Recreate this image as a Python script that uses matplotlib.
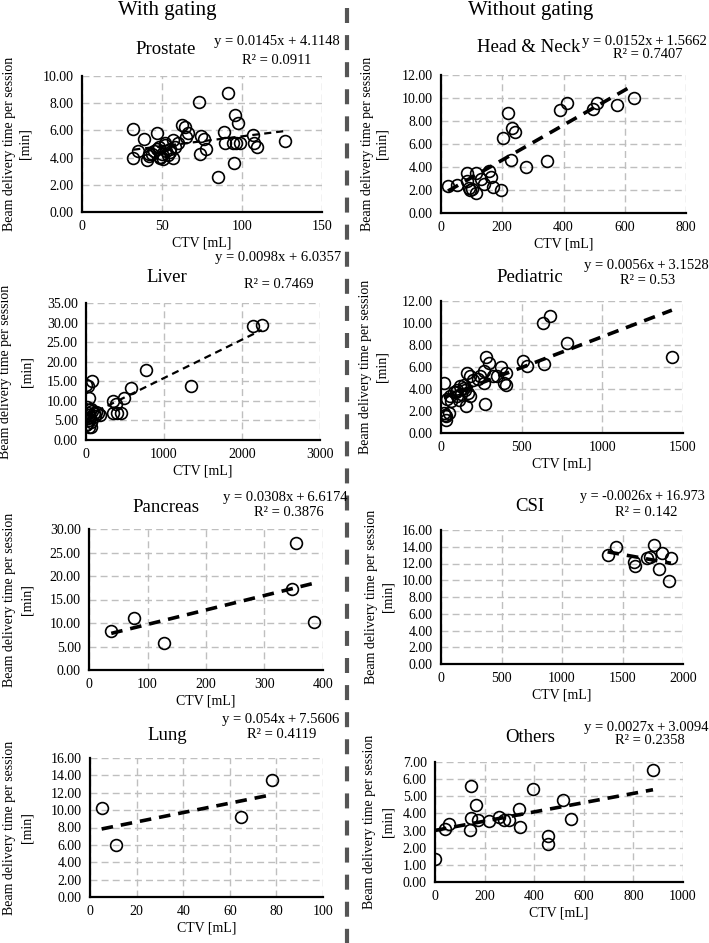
import matplotlib
matplotlib.use("Agg")
import matplotlib.pyplot as plt
import numpy as np

plt.rcParams['font.family'] = ['Liberation Serif', 'DejaVu Serif']

# ---------------- data ----------------
prostate_x = [32, 32, 35, 38.5, 40.4, 41.8, 46.6, 45, 48.3, 48.7, 50, 50.7, 51.8, 52.8, 53.9, 54.9,
              57, 57, 58, 62.8, 64.3, 66.3, 65.3, 73.2, 73.6, 74.6, 76.3, 77.8, 85, 88.6, 89.2, 91.1,
              95.5, 97.8, 95.1, 94.4, 96.5, 98.6, 106.9, 107.5, 109.4, 126.7, 44, 47, 49, 52, 55, 60, 42]
prostate_y = [6.08, 3.95, 4.5, 5.35, 3.8, 4.1, 5.8, 4.45, 4.8, 4.07, 4.3, 3.9, 5.05, 4.5, 4.2, 4.66,
              5.3, 3.95, 4.8, 6.4, 6.27, 5.8, 5.5, 8.1, 4.25, 5.6, 5.35, 4.6, 2.55, 5.9, 5.05, 8.77,
              7.1, 6.55, 3.58, 5.05, 5.05, 5.05, 5.66, 5.1, 4.75, 5.22, 4.3, 4.6, 4.0, 4.9, 4.4, 5.1, 4.25]

hn_x = [23, 52, 85, 85, 91, 96, 115, 115, 140, 156, 164, 170, 196, 203, 218, 227, 232, 240, 276,
        345, 387, 413, 497, 509, 576, 629, 100, 130]
hn_y = [2.37, 2.46, 3.47, 2.75, 2.17, 1.97, 3.47, 1.73, 2.54, 3.67, 3.12, 2.23, 2.02, 6.56, 8.68,
        4.63, 7.37, 7.08, 3.96, 4.48, 8.96, 9.54, 9.02, 9.6, 9.4, 9.98, 2.1, 3.0]

liver_x = [2145, 2252, 765, 1342, 577, 487, 350, 380, 340, 400, 444, 0, 30, 81, 43, 10, 20, 40, 60,
           80, 100, 130, 150, 180, 25, 50, 70, 15, 35, 43, 60, 110, 5]
liver_y = [29.2, 29.4, 17.9, 13.9, 13.2, 10.7, 10.0, 9.2, 6.8, 6.8, 6.8, 14.1, 13.7, 15.0, 10.7, 8.5,
           7.0, 6.5, 8.0, 7.5, 7.0, 7.2, 6.8, 6.5, 5.5, 6.0, 4.5, 4.0, 5.0, 3.4, 3.2, 6.2, 3.8]

ped_x = [673, 632, 783, 1431, 638, 534, 507, 280, 296, 369, 400, 390, 404, 348, 265, 265, 244, 271,
         161, 182, 157, 182, 17, 17, 27, 33, 48, 58, 79, 99, 120, 141, 99, 124, 150, 200, 60, 40, 30,
         110, 170, 230, 320, 90, 140]
ped_y = [10.67, 10.04, 8.16, 6.95, 6.29, 6.05, 6.59, 6.89, 6.35, 5.96, 5.44, 4.53, 4.38, 5.14, 5.6,
         4.53, 5.14, 2.63, 5.44, 5.14, 2.42, 3.33, 4.53, 1.81, 1.66, 1.21, 1.81, 3.33, 3.69, 3.93,
         4.23, 4.38, 3.33, 3.57, 3.9, 4.8, 2.9, 3.1, 1.5, 3.0, 3.6, 4.9, 5.2, 3.7, 4.1]

panc_x = [38, 77, 128, 347, 353, 384]
panc_y = [8.3, 11.0, 5.7, 17.2, 27.0, 10.3]

csi_x = [1377, 1446, 1592, 1600, 1702, 1730, 1757, 1804, 1826, 1881, 1900]
csi_y = [13.0, 14.0, 12.2, 11.7, 12.6, 12.8, 14.2, 11.3, 13.2, 9.9, 12.6]

lung_x = [5.0, 11.2, 64.8, 78.1]
lung_y = [10.2, 5.98, 9.25, 13.5]

oth_x = [0, 40, 55, 147, 145, 142, 164, 172, 218, 260, 279, 299, 339, 341, 395, 456, 457, 517, 550, 879]
oth_y = [1.32, 3.11, 3.4, 5.58, 3.75, 3.05, 4.51, 3.64, 3.56, 3.79, 3.6, 3.64, 4.28, 3.21, 5.41,
         2.66, 2.24, 4.8, 3.66, 6.55]

names = ["Prostate", "Head & Neck", "Liver", "Pediatric", "Pancreas", "CSI", "Lung", "Others"]
slopes = [0.0145, 0.0152, 0.0098, 0.0056, 0.0308, -0.0026, 0.054, 0.0027]
intercepts = [4.1148, 1.5662, 6.0357, 3.1528, 6.6174, 16.973, 7.5606, 3.0094]
TS = "\u2009"
eq_texts = ["y = 0.0145x + 4.1148", f"y = 0.0152x{TS}+{TS}1.5662", "y = 0.0098x + 6.0357",
            f"y = 0.0056x{TS}+{TS}3.1528", f"y = 0.0308x{TS}+{TS}6.6174", f"y = -0.0026x{TS}+{TS}16.973",
            f"y = 0.054x{TS}+{TS}7.5606", f"y = 0.0027x{TS}+{TS}3.0094"]
r2_texts = ["R² = 0.0911", "R² = 0.7407", "R² = 0.7469", "R² = 0.53",
            "R² = 0.3876", "R² = 0.142", "R² = 0.4119", "R² = 0.2358"]
xticks_list = [[0, 50, 100, 150], [0, 200, 400, 600, 800], [0, 1000, 2000, 3000],
               [0, 500, 1000, 1500], [0, 100, 200, 300, 400], [0, 500, 1000, 1500, 2000],
               [0, 20, 40, 60, 80, 100], [0, 200, 400, 600, 800, 1000]]
yticks_list = [[0, 2, 4, 6, 8, 10], [0, 2, 4, 6, 8, 10, 12], [0, 5, 10, 15, 20, 25, 30, 35],
               [0, 2, 4, 6, 8, 10, 12], [0, 5, 10, 15, 20, 25, 30], list(range(0, 17, 2)),
               list(range(0, 17, 2)), [0, 1, 2, 3, 4, 5, 6, 7]]
xs = [prostate_x, hn_x, liver_x, ped_x, panc_x, csi_x, lung_x, oth_x]
ys = [prostate_y, hn_y, liver_y, ped_y, panc_y, csi_y, lung_y, oth_y]

# ---------------- layout (pixels) ----------------
W, H = 709, 943
# left, right, top, bottom of axes
boxes = [(82, 322, 76, 212), (441, 686, 75, 213), (86, 320, 303, 440), (441, 683, 301, 433),
         (89, 323, 529, 670), (441, 683, 530, 664), (90, 323, 758, 897), (435, 683, 762, 882)]
title_pos = [(166, 49), (529, 48), (167, 278), (530, 277), (166, 507), (530, 506), (167, 735), (530, 737)]
eq_pos = [(277, 42), (644, 42), (278, 258), (646, 265), (285, 498), (642, 497), (281, 720), (646, 727)]
r2_pos = [(277, 60), (648, 55), (279, 284), (648, 280), (289, 513), (646, 513), (282, 735), (650, 741)]
eq_size = [10.5, 10.5, 10.5, 10.5, 10.5, 10.2, 10.5, 10.5]
ylab_x = [(10, 25), (367, 382), (6, 27), (366, 382), (10, 27), (371, 388), (10, 27), (369, 388)]
trend_lw = [1.6, 2.6, 1.6, 2.6, 2.6, 2.6, 2.6, 2.6]

fig = plt.figure(figsize=(W / 100, H / 100), dpi=100)

def fx(x):
    return x / W

def fy(y):
    return 1 - y / H

for i in range(8):
    l, r, t, b = boxes[i]
    ax = fig.add_axes([fx(l), fy(b), (r - l) / W, (b - t) / H])
    ax.set_xlim(xticks_list[i][0], xticks_list[i][-1])
    ax.set_ylim(yticks_list[i][0], yticks_list[i][-1])
    ax.set_xticks(xticks_list[i])
    ax.set_yticks(yticks_list[i])
    ax.set_yticklabels([f"{v:.2f}" for v in yticks_list[i]])
    ax.tick_params(length=0, labelsize=10, pad=6)
    ax.grid(True, color="#bfbfbf", lw=1.0, linestyle=(0, (5, 3)))
    ax.set_axisbelow(True)
    for s in ["top", "right"]:
        ax.spines[s].set_visible(False)
    for s in ["left", "bottom"]:
        ax.spines[s].set_linewidth(1.6)
        ax.spines[s].set_color("black")
    ax.plot(xs[i], ys[i], linestyle="none", marker="o", markersize=8.5,
            markerfacecolor="none", markeredgecolor="black", markeredgewidth=1.2, zorder=3)
    x0, x1 = min(xs[i]), max(xs[i])
    lx = np.array([x0, x1])
    ax.plot(lx, slopes[i] * lx + intercepts[i], color="black", lw=trend_lw[i],
            linestyle=(0, (3.2, 2.2)), zorder=4)
    ax.set_xlabel("CTV [mL]", fontsize=10, labelpad=2)
    fig.text(fx(title_pos[i][0]), fy(title_pos[i][1]), names[i], fontsize=13.5,
             ha="center", va="center")
    fig.text(fx(eq_pos[i][0]), fy(eq_pos[i][1]), eq_texts[i], fontsize=eq_size[i],
             ha="center", va="center")
    fig.text(fx(r2_pos[i][0]), fy(r2_pos[i][1]), r2_texts[i], fontsize=10.5,
             ha="center", va="center")
    yc = fy((t + b) / 2)
    fig.text(fx(ylab_x[i][0]), yc, "Beam delivery time per session", fontsize=10,
             rotation=90, ha="center", va="center")
    fig.text(fx(ylab_x[i][1]), yc, "[min]", fontsize=10, rotation=90, ha="center", va="center")

fig.text(fx(167), fy(11), "With gating", fontsize=15, ha="center", va="center")
fig.text(fx(531), fy(11), "Without gating", fontsize=15, ha="center", va="center")

sep = fig.add_axes([0, 0, 1, 1], facecolor="none")
sep.set_xlim(0, W)
sep.set_ylim(H, 0)
sep.axis("off")
sep.plot([347, 347], [8, H], color="#555555", lw=3.0, linestyle=(0, (3.6, 2.9)))

fig.savefig("out.png", dpi=100)
